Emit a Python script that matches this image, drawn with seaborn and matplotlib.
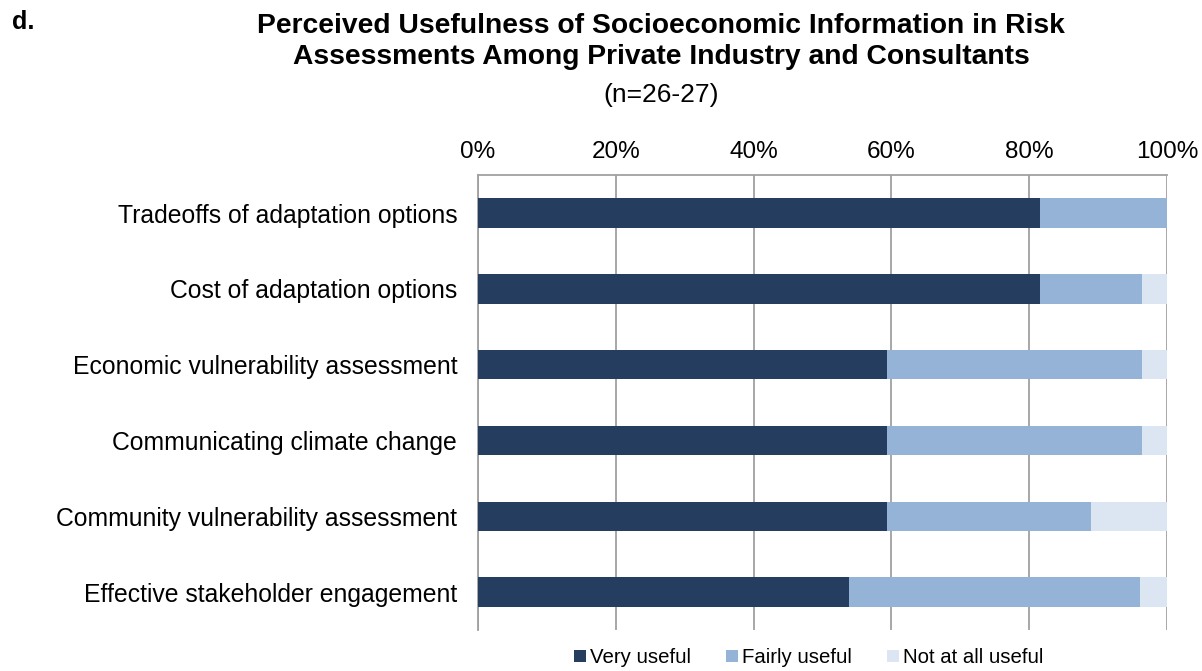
import matplotlib
matplotlib.use("Agg")
import matplotlib.pyplot as plt
import pandas as pd
import seaborn as sns

# ============================================
# DATA (percent of respondents)
# ============================================
categories = [
    "Tradeoffs of adaptation options",
    "Cost of adaptation options",
    "Economic vulnerability assessment",
    "Communicating climate change",
    "Community vulnerability assessment",
    "Effective stakeholder engagement",
]
very_useful = [81.5, 81.5, 59.3, 59.3, 59.3, 53.8]
fairly_useful = [18.5, 14.8, 37.0, 37.0, 29.6, 42.3]
not_useful = [0.0, 3.7, 3.7, 3.7, 11.1, 3.9]

series_names = ["Very useful", "Fairly useful", "Not at all useful"]
colors = ["#253D5E", "#95B3D7", "#DCE6F2"]

sns.set_style("white")
plt.rcParams['font.family'] = ['Liberation Sans', 'DejaVu Sans']
plt.rcParams['text.color'] = 'black'
plt.rcParams['xtick.color'] = 'black'
plt.rcParams['ytick.color'] = 'black'

df = pd.DataFrame({
    "category": categories,
    "Very useful": very_useful,
    "Fairly useful": fairly_useful,
    "Not at all useful": not_useful,
})
# cumulative ends for stacking
df["c1"] = df["Very useful"]
df["c2"] = df["c1"] + df["Fairly useful"]
df["c3"] = df["c2"] + df["Not at all useful"]

fig = plt.figure(figsize=(12.02, 6.71), dpi=100)
ax = fig.add_axes([0.3977, 0.061, 0.5732, 0.678])

# draw from the longest stack to the shortest
for col, name, color in zip(["c3", "c2", "c1"], series_names[::-1], colors[::-1]):
    sns.barplot(data=df, x=col, y="category", orient="h", color=color,
                width=0.39, saturation=1, linewidth=0, ax=ax, label=name, zorder=3)

ax.set_xlim(0, 100)
ax.set_ylim(5.5, -0.5)
ax.set_xticks([0, 20, 40, 60, 80, 100])
ax.set_xticklabels([f"{v}%" for v in [0, 20, 40, 60, 80, 100]])
ax.xaxis.tick_top()
ax.tick_params(axis="x", labelsize=17.5, length=0, pad=9)
ax.tick_params(axis="y", labelsize=17.8, length=0, pad=15)
ax.set_xlabel("")
ax.set_ylabel("")
ax.grid(axis="x", color="#A0A0A0", linewidth=1.3, zorder=0)
for s in ["right", "bottom"]:
    ax.spines[s].set_visible(False)
ax.spines["top"].set_color("#A0A0A0")
ax.spines["left"].set_color("#A0A0A0")
ax.spines["top"].set_linewidth(1.3)
ax.spines["left"].set_linewidth(1.3)

handles, labels = ax.get_legend_handles_labels()
order = [labels.index(n) for n in series_names]
ax.legend([handles[i] for i in order], series_names, loc="upper center",
          bbox_to_anchor=(0.48, 0.0), ncol=3, frameon=False, fontsize=14.7,
          handlelength=0.55, handleheight=0.55, handletextpad=0.2, columnspacing=1.75)

fig.text(0.55, 0.981, "Perceived Usefulness of Socioeconomic Information in Risk\n"
         "Assessments Among Private Industry and Consultants",
         ha="center", va="top", fontsize=20.3, fontweight="bold", linespacing=1.25)
fig.text(0.55, 0.877, "(n=26-27)", ha="center", va="top", fontsize=19)
fig.text(0.01, 0.985, "d.", ha="left", va="top", fontsize=18, fontweight="bold")

fig.savefig("out.png", dpi=100)
